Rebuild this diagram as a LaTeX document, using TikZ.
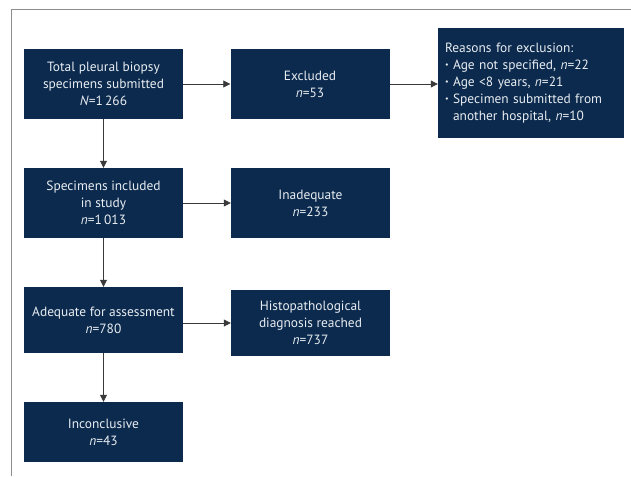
\documentclass[tikz,border=0pt]{standalone}
\usepackage{fontspec}
\setmainfont{PT Sans}
\usepackage{xcolor}
\usetikzlibrary{positioning, calc, arrows.meta}

\definecolor{boxnavy}{HTML}{0B2A4D}
\definecolor{boxtext}{HTML}{E9EDF2}
\definecolor{framegray}{HTML}{8C8C8C}
\definecolor{flowline}{HTML}{3A3A3A}

\newcommand{\smallbul}{\raisebox{.12em}{\fontsize{8}{8}\selectfont\textbullet}\ }

\begin{document}
\begin{tikzpicture}[x=1pt, y=-1pt,
    flowbox/.style={fill=boxnavy, text=boxtext, align=center,
        minimum width=159pt, minimum height=70pt, inner sep=4pt,
        font=\fontsize{13.4}{17}\selectfont},
    flowarrow/.style={flowline, line width=0.8pt, -{Triangle[length=7pt, width=7pt]}}]

        % 0. Canvas and outer frame (cut off at right and bottom)
        \useasboundingbox (0,0) rectangle (631,476);
        \coordinate (frameBL) at (11,476);
        \coordinate (frameTL) at (11,10);
        \coordinate (frameTR) at (631,10);
        \draw[framegray, line width=1pt] (frameBL) -- (frameTL) -- (frameTR);

        % 1. Main column (left)
        \node[flowbox] (total) at (103.5,84) {Total pleural biopsy\\specimens submitted\\\textit{N}=1\,266};
        \node[flowbox] (incl) at (103.5,203) {Specimens included\\in study\\\textit{n}=1\,013};
        \node[flowbox, minimum height=66pt] (adeq) at (103.5,320) {Adequate for assessment\\\textit{n}=780};
        \node[flowbox, minimum height=60pt] (inconcl) at (103.5,432) {Inconclusive\\\textit{n}=43};

        % 2. Side branches (middle column)
        \node[flowbox] (excl) at (310,84) {Excluded\\\textit{n}=53};
        \node[flowbox] (inadeq) at (310.5,203) {Inadequate\\\textit{n}=233};
        \node[flowbox, minimum height=66pt] (histo) at (310.5,323) {Histopathological\\diagnosis reached\\\textit{n}=737};

        % 3. Reasons for exclusion (right)
        \node[flowbox, align=left, minimum width=186pt, minimum height=110pt, text width=172pt] (reasons) at (531,83)
            {Reasons for exclusion:\\
             \smallbul Age not specified, \textit{n}=22\\
             \smallbul Age <8 years, \textit{n}=21\\
             \smallbul Specimen submitted from\\
             \phantom{\smallbul}another hospital, \textit{n}=10};

        % 4. Connectors
        \draw[flowarrow] (total) -- (incl);
        \draw[flowarrow] (incl) -- (adeq);
        \draw[flowarrow] (adeq) -- (inconcl);
        \draw[flowarrow] (total) -- (excl);
        \draw[flowarrow] (excl) -- (reasons.west |- excl);
        \draw[flowarrow] (incl) -- (inadeq);
        \draw[flowarrow] (adeq.east |- histo) -- (histo);

\end{tikzpicture}
\end{document}
